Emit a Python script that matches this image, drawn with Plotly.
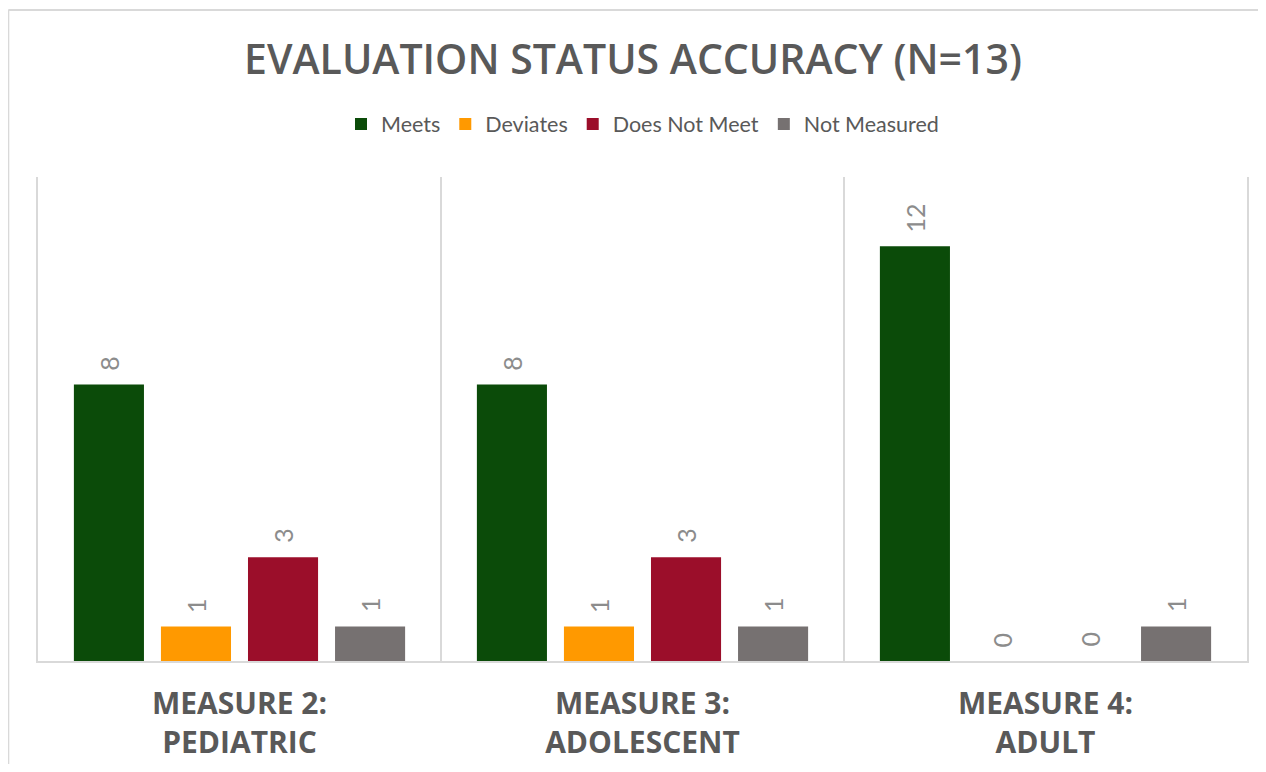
import plotly.graph_objects as go

categories = ["MEASURE 2:<br>PEDIATRIC", "MEASURE 3:<br>ADOLESCENT", "MEASURE 4:<br>ADULT"]
series_names = ["Meets", "Deviates", "Does Not Meet", "Not Measured"]
meets = [8, 8, 12]
deviates = [1, 1, 0]
does_not_meet = [3, 3, 0]
not_measured = [1, 1, 1]
colors = ["#0b4b09", "#ff9900", "#9b0e2a", "#767171"]

values = [meets, deviates, does_not_meet, not_measured]

W, H = 1250, 756
ML, MR, MT, MB = 30, 11, 169, 103
plot_w = W - ML - MR
cat_w = plot_w / len(categories)
bargap = 0.136
slot = cat_w * (1 - bargap) / len(series_names)

fig = go.Figure()
for i, (name, vals, col) in enumerate(zip(series_names, values, colors)):
    fig.add_trace(go.Bar(
        name=name, x=categories, y=vals,
        marker=dict(color=col, line=dict(width=0)),
        cliponaxis=False,
    ))
    off = (i - (len(series_names) - 1) / 2) * slot
    for c, v in zip(categories, vals):
        fig.add_annotation(
            x=c, y=v, xref="x", yref="y", text=str(v), showarrow=False,
            textangle=-90, xanchor="center", yanchor="bottom",
            xshift=off, yshift=12,
            font=dict(family="Lato", size=25, color="#8c8c8c"),
        )

fig.update_layout(
    width=W, height=H,
    margin=dict(l=ML, r=MR, t=MT, b=MB, autoexpand=False),
    paper_bgcolor="white", plot_bgcolor="white",
    barmode="group", bargap=bargap, bargroupgap=0.195,
    title=dict(text="EVALUATION STATUS ACCURACY (N=13)", x=0.5, xanchor="center",
               y=1 - 52 / H, yanchor="middle",
               font=dict(family="Open Sans", size=41, color="#595959", weight=600)),
    legend=dict(orientation="h", x=0.5, xanchor="center", y=(653 - 116) / 484, yanchor="middle",
                font=dict(family="Lato", size=21.5, color="#595959"),
                itemwidth=30, traceorder="normal"),
    xaxis=dict(range=[-0.5, 2.5], tickson="boundaries", showgrid=True, automargin=False,
               gridcolor="#d9d9d9", gridwidth=2, showline=True, linecolor="#d9d9d9",
               linewidth=2, ticks="", ticklen=0, ticklabelstandoff=15,
               tickfont=dict(family="Open Sans", size=30, color="#595959", weight="bold")),
    yaxis=dict(range=[0, 14], showgrid=False, showticklabels=False, zeroline=False,
               automargin=False,
               showline=True, mirror=True, linecolor="#d9d9d9", linewidth=2),
    showlegend=True,
)

# outer chart border (top and left edges visible)
bx = (0.3 - ML) / plot_w
by = (H - MB - 2) / (H - MT - MB)
fig.add_shape(type="line", xref="paper", yref="paper", x0=bx, x1=1.05, y0=by, y1=by,
              line=dict(color="#d9d9d9", width=2))
fig.add_shape(type="line", xref="paper", yref="paper", x0=bx, x1=bx, y0=by, y1=-0.3,
              line=dict(color="#d9d9d9", width=2))

fig.write_html("out.html")
